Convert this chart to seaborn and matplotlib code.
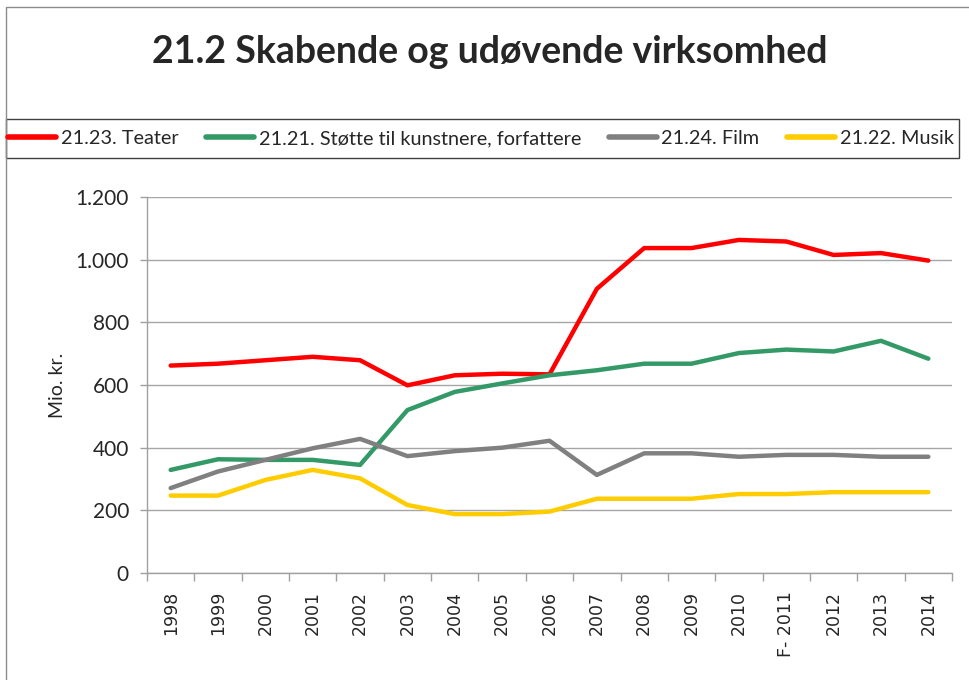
import numpy as np
import pandas as pd
import seaborn as sns
import matplotlib.pyplot as plt
from matplotlib.lines import Line2D
from matplotlib.patches import Rectangle
from matplotlib.ticker import FuncFormatter

# data (Mio. kr.)
years = ["1998", "1999", "2000", "2001", "2002", "2003", "2004", "2005", "2006",
         "2007", "2008", "2009", "2010", "F- 2011", "2012", "2013", "2014"]
teater = [662, 668, 679, 690, 679, 599, 631, 636, 634, 907, 1037, 1037, 1063, 1058, 1015, 1021, 997]
stotte = [329, 363, 361, 361, 345, 520, 578, 605, 631, 647, 668, 668, 702, 713, 707, 741, 684]
film = [271, 324, 361, 398, 428, 373, 389, 400, 422, 313, 382, 382, 371, 377, 377, 371, 371]
musik = [247, 247, 297, 329, 302, 217, 188, 188, 196, 237, 237, 237, 252, 252, 258, 258, 258]

series_names = ["21.23. Teater", "21.21. Støtte til kunstnere, forfattere", "21.24. Film", "21.22. Musik"]
colors = ["#ff0000", "#339966", "#808080", "#ffcc00"]

df = pd.DataFrame({
    "År": years * 4,
    "Mio. kr.": teater + stotte + film + musik,
    "Område": np.repeat(series_names, len(years)),
})

sns.set_theme(style="white")
plt.rcParams["font.family"] = ["Lato", "DejaVu Sans"]

fig = plt.figure(figsize=(9.7, 6.8), dpi=100)
ax = fig.add_axes([147 / 970, 1 - 573 / 680, (952 - 147) / 970, (573 - 197) / 680])

sns.lineplot(data=df, x="År", y="Mio. kr.", hue="Område", palette=colors,
             linewidth=3.2, sort=False, legend=False, ax=ax, solid_capstyle="round")

ax.set_xlim(-0.5, len(years) - 0.5)
ax.set_ylim(0, 1200)
ax.set_yticks(range(0, 1201, 200))
ax.yaxis.set_major_formatter(FuncFormatter(lambda v, p: f"{int(v):,}".replace(",", ".")))
ax.yaxis.grid(True, color="#a6a6a6", lw=1)
ax.set_axisbelow(True)

for s in ["top", "right"]:
    ax.spines[s].set_visible(False)
for s in ["left", "bottom"]:
    ax.spines[s].set_color("#a0a0a0")
    ax.spines[s].set_linewidth(1)

ax.set_xticks(range(len(years)))
ax.set_xticklabels(years, rotation=90)
ax.set_xticks(np.arange(-0.5, len(years), 1), minor=True)
ax.tick_params(axis="x", which="major", length=0, pad=13)
ax.tick_params(axis="x", which="minor", length=6, color="#a0a0a0", width=1, bottom=True)
ax.tick_params(axis="y", length=5, color="#a0a0a0", width=1, left=True, pad=8)

ax.set_xlabel("")
ax.set_ylabel("Mio. kr.", fontsize=14)
ax.yaxis.set_label_coords(-0.101, 0.5)

# title
fig.text(0.505, 1 - 52 / 680, "21.2 Skabende og udøvende virksomhed",
         ha="center", va="center", fontsize=27, fontweight="bold")

# outer frame (top + left edges)
fig.add_artist(Line2D([6 / 970, 6 / 970, 1.0], [0.0, 1 - 7 / 680, 1 - 7 / 680],
                      transform=fig.transFigure, color="#8c8c8c", lw=1))

# legend box
fig.add_artist(Rectangle((6 / 970, 1 - 158 / 680), (959 - 6) / 970, 39 / 680,
                         transform=fig.transFigure, fill=False, edgecolor="#404040", lw=1))

handles = [Line2D([], [], color=c, lw=4, solid_capstyle="round") for c in colors]
fig.legend(handles, series_names, loc="center", bbox_to_anchor=(481 / 970, 1 - 138.5 / 680),
           ncol=4, frameon=False, fontsize=14.3, handlelength=2.4, handletextpad=0.25,
           columnspacing=1.4)

# tick label fonts last, so nothing resets them
fig.canvas.draw()
plt.setp(ax.get_xticklabels(), fontfamily=["DejaVu Sans"], fontsize=12.5)
plt.setp(ax.get_yticklabels(), fontsize=15)

plt.savefig("out.png", dpi=100)
